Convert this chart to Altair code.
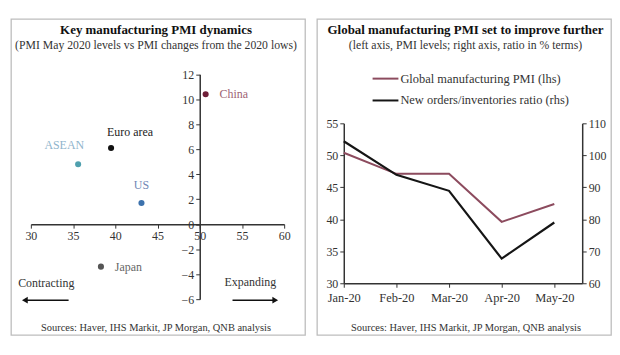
import altair as alt
import pandas as pd

# ---------------- data ----------------
countries = ["China", "Euro area", "ASEAN", "US", "Japan"]
pmi_may = [50.7, 39.5, 35.6, 43.1, 38.3]
pmi_change_from_low = [10.4, 6.1, 4.8, 1.7, -3.4]

months = ["Jan-20", "Feb-20", "Mar-20", "Apr-20", "May-20"]
global_pmi = [50.4, 47.1, 47.1, 39.6, 42.4]
orders_inv_ratio = [104.4, 93.9, 88.9, 67.7, 79.0]

x_ticks_left = [30, 35, 40, 45, 50, 55, 60]
y_ticks_left = [-6, -4, -2, 0, 2, 4, 6, 8, 10, 12]
lhs_ticks = [30, 35, 40, 45, 50, 55]
rhs_ticks = [60, 70, 80, 90, 100, 110]

series_names = ["Global manufacturing PMI (lhs)", "New orders/inventories ratio (rhs)"]

left_title = "Key manufacturing PMI dynamics"
left_sub = "(PMI May 2020 levels vs PMI changes from the 2020 lows)"
right_title = "Global manufacturing PMI set to improve further"
right_sub = "(left axis, PMI levels; right axis, ratio in % terms)"
source = "Sources: Haver, IHS Markit, JP Morgan, QNB analysis"

# ---------------- style ----------------
SERIF = "Liberation Serif"
W, H = 296, 318
point_colors = ["#6E1F38", "#111111", "#4FA0AE", "#3D72AD", "#555555"]
label_style = {
    "China": dict(align="left", dx=14, dy=0, color="#9E6273"),
    "Euro area": dict(align="left", dx=-4, dy=-16, color="#222222"),
    "ASEAN": dict(align="center", dx=-14, dy=-19, color="#8FB4CC"),
    "US": dict(align="center", dx=0, dy=-18, color="#6F87B5"),
    "Japan": dict(align="left", dx=14, dy=0, color="#666666"),
}
line_colors = ["#8C4B5E", "#151515"]

axis_style = dict(
    domainColor="#333333", domainWidth=1.5, tickColor="#333333", tickSize=4,
    labelFont=SERIF, labelFontSize=12, labelColor="#333333", grid=False,
    title=None, labelFlush=False, labelOverlap=False, labelPadding=2,
)

one = pd.DataFrame({"k": [0]})


def text_layer(txt, x, y, size, bold=False, color="#222222", align="center"):
    return alt.Chart(one).mark_text(
        text=txt, font=SERIF, fontSize=size, fontWeight="bold" if bold else "normal",
        color=color, align=align, baseline="middle",
    ).encode(x=alt.value(x), y=alt.value(y))


# ---------------- left panel ----------------
df_sc = pd.DataFrame({"country": countries, "pmi": pmi_may, "chg": pmi_change_from_low})
xs = alt.Scale(domain=[30, 60], range=[20, 275], nice=False, zero=False)
ys = alt.Scale(domain=[-6, 12], range=[282, 55.6], nice=False, zero=False)
x_left = alt.X("pmi:Q", scale=xs,
               axis=alt.Axis(values=x_ticks_left, orient="bottom", offset=-111.5, **axis_style))
y_left = alt.Y("chg:Q", scale=ys,
               axis=alt.Axis(values=y_ticks_left, orient="left", offset=-190, **axis_style))

points = alt.Chart(df_sc).mark_circle(size=38, opacity=1).encode(
    x=x_left, y=y_left,
    color=alt.Color("country:N", scale=alt.Scale(domain=countries, range=point_colors), legend=None),
)

left_layers = [points]
for c in countries:
    st = label_style[c]
    left_layers.append(
        alt.Chart(df_sc).transform_filter(alt.datum.country == c).mark_text(
            font=SERIF, fontSize=12, align=st["align"], baseline="middle",
            dx=st["dx"], dy=st["dy"], color=st["color"],
        ).encode(x=x_left, y=y_left, text="country:N")
    )

left_layers += [
    text_layer(left_title, 146, 11, 13, bold=True, color="#111111"),
    text_layer(left_sub, 146, 26, 11.8, color="#333333"),
    text_layer(source, 146, 311, 10.5, color="#333333"),
    text_layer("Contracting", 35.5, 266, 12, color="#333333"),
    text_layer("Expanding", 241, 265, 12, color="#333333"),
    alt.Chart(one).mark_rule(color="#111111", strokeWidth=1.5).encode(
        x=alt.value(14), x2=alt.value(58), y=alt.value(283)),
    alt.Chart(one).mark_point(shape="triangle-left", filled=True, size=45, color="#111111", opacity=1).encode(
        x=alt.value(14), y=alt.value(283)),
    alt.Chart(one).mark_rule(color="#111111", strokeWidth=1.5).encode(
        x=alt.value(223), x2=alt.value(266), y=alt.value(283)),
    alt.Chart(one).mark_point(shape="triangle-right", filled=True, size=45, color="#111111", opacity=1).encode(
        x=alt.value(266), y=alt.value(283)),
]
left = alt.layer(*left_layers).properties(width=W, height=H)

# ---------------- right panel ----------------
df_ln = pd.DataFrame({"i": list(range(len(months))), "month": months,
                      "pmi": global_pmi, "ratio": orders_inv_ratio})
xr = alt.Scale(domain=[0, 4.53], range=[27, 267], nice=False, zero=False)
label_expr = "[" + ",".join("'%s'" % m for m in months) + "][datum.value]"
x_axis_style = dict(axis_style, labelFontSize=12.5, labelPadding=4)
x_right = alt.X("i:Q", scale=xr,
                axis=alt.Axis(values=list(range(len(months))), labelExpr=label_expr,
                              orient="bottom", offset=-52, **x_axis_style))

pmi_line = alt.Chart(df_ln).mark_line(color=line_colors[0], strokeWidth=2).encode(
    x=x_right,
    y=alt.Y("pmi:Q", scale=alt.Scale(domain=[30, 55], range=[266, 105], nice=False, zero=False),
            axis=alt.Axis(values=lhs_ticks, orient="left", offset=-27, **axis_style)),
)
ratio_line = alt.Chart(df_ln).mark_line(color=line_colors[1], strokeWidth=2.2).encode(
    x=x_right,
    y=alt.Y("ratio:Q", scale=alt.Scale(domain=[60, 110], range=[266, 105], nice=False, zero=False),
            axis=alt.Axis(values=rhs_ticks, orient="right", offset=-29, **axis_style)),
)

right_layers = [pmi_line, ratio_line]
for k, name in enumerate(series_names):
    yy = 60 + 22 * k
    right_layers.append(alt.Chart(one).mark_rule(color=line_colors[k], strokeWidth=2).encode(
        x=alt.value(56), x2=alt.value(82), y=alt.value(yy)))
    right_layers.append(text_layer(name, 84, yy, 12.5, color="#333333", align="left"))

right_layers += [
    text_layer(right_title, 149.5, 11, 13, bold=True, color="#111111"),
    text_layer(right_sub, 149.5, 26, 11.8, color="#333333"),
    text_layer(source, 150, 311, 10.5, color="#333333"),
]
right = alt.layer(*right_layers).resolve_scale(y="independent").properties(width=W, height=H)

chart = alt.hconcat(left, right, spacing=10).properties(
    padding={"left": 2, "top": 9, "right": 0, "bottom": 0}
).configure_view(stroke="#bdbdbd", strokeWidth=1.3).configure_axis(labelOverlap=False)

chart.save("out.html", embed_options={"renderer": "svg", "actions": False})
